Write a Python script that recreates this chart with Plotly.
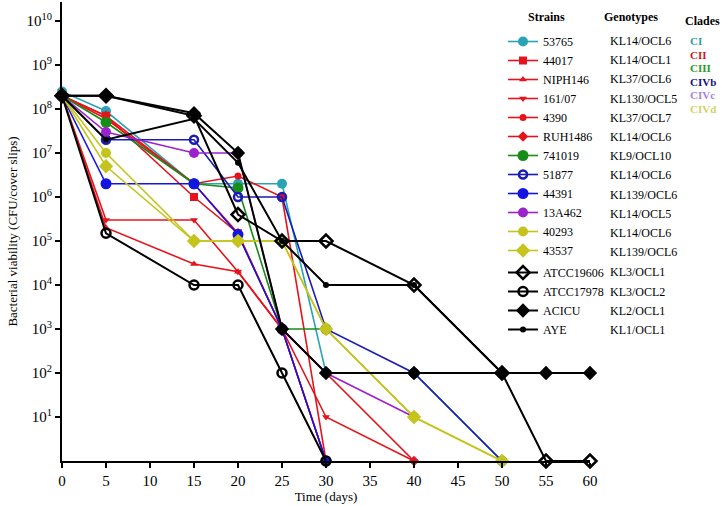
import plotly.graph_objects as go

# ---------------- data ----------------
days = [0, 5, 15, 20, 25, 30, 40, 50, 55, 60]

strains = ["53765", "44017", "NIPH146", "161/07", "4390", "RUH1486", "741019",
           "51877", "44391", "13A462", "40293", "43537",
           "ATCC19606", "ATCC17978", "ACICU", "AYE"]
genotypes = ["KL14/OCL6", "KL14/OCL1", "KL37/OCL6", "KL130/OCL5", "KL37/OCL7",
             "KL14/OCL6", "KL9/OCL10", "KL14/OCL6", "KL139/OCL6", "KL14/OCL5",
             "KL14/OCL6", "KL139/OCL6", "KL3/OCL1", "KL3/OCL2", "KL2/OCL1", "KL1/OCL1"]
clades = ["CI", "CII", "CIII", "CIVb", "CIVc", "CIVd"]

v53765 = [2.5e8, 9e7, 2e6, 2e6, 2e6, 1e2, 1e2, 1]
v44017 = [2e8, 7e7, 1e6, 1.5e5, 1e3, 1]
vNIPH146 = [2e8, 2e5, 3e4, 2e4, 1e3, 1]
v16107 = [2e8, 3e5, 3e5, 2e4, 1e3, 10, 1]
v4390 = [2e8, 6e7, 2e6, 3e6, 1e6, 1]
vRUH1486 = [2e8, 7e7, 2e6, 1.5e5, 1e3, 1e2, 1]
v741019 = [2e8, 5e7, 2e6, 1.6e6, 1e3, 1e3]
v51877 = [2e8, 2e7, 2e7, 1e6, 1e6, 1e3, 1e2, 1]
v44391 = [2e8, 2e6, 2e6, 1.4e5, 1e3, 1]
v13A462 = [2e8, 3e7, 1e7, 1e7, 1e3, 1e2, 10]
v40293 = [2e8, 1e7, 1e5, 1e5, 1e5, 1e3, 10, 1]
v43537 = [2e8, 5e6, 1e5, 1e5, 1e5, 1e3, 10, 1]
vATCC19606 = [2e8, 2e8, 7e7, 4e5, 1e5, 1e5, 1e4, 1e2, 1, 1]
vATCC17978 = [2e8, 1.5e5, 1e4, 1e4, 1e2, 1]
vACICU = [2e8, 2e8, 8e7, 1e7, 1e3, 1e2, 1e2, 1e2, 1e2, 1e2]
vAYE = [2e8, 2e7, 6e7, 6e6, 1e5, 1e4, 1e4, 1e2, 1e2, 1e2]

values = [v53765, v44017, vNIPH146, v16107, v4390, vRUH1486, v741019,
          v51877, v44391, v13A462, v40293, v43537,
          vATCC19606, vATCC17978, vACICU, vAYE]

x_ticks = [0, 5, 10, 15, 20, 25, 30, 35, 40, 45, 50, 55, 60]
y_tick_exp = list(range(1, 11))

# ---------------- styles ----------------
RED = "#e5141c"
styles = [
    dict(color="#2aa3b4", symbol="circle", size=10),
    dict(color=RED, symbol="square", size=8),
    dict(color=RED, symbol="triangle-up", size=7),
    dict(color=RED, symbol="triangle-down", size=7),
    dict(color=RED, symbol="circle", size=7),
    dict(color=RED, symbol="diamond", size=8),
    dict(color="#188c18", symbol="circle", size=11),
    dict(color="#1a1ab4", symbol="circle-open", size=8, lw=2.5),
    dict(color="#1414e0", symbol="circle", size=11),
    dict(color="#9b22cc", symbol="circle", size=10),
    dict(color="#c4c41c", symbol="circle-dot", size=10),
    dict(color="#c4c41c", symbol="diamond-dot", size=11),
    dict(color="black", symbol="diamond-open", size=10, lw=2.5, w=2),
    dict(color="black", symbol="circle-open", size=9, lw=2.5, w=2),
    dict(color="black", symbol="diamond", size=11, w=2),
    dict(color="black", symbol="circle", size=6, w=2),
]

W, H = 726, 506
ML, MR, MT, MB = 62, 136, 2, 45
PW, PH = W - ML - MR, H - MT - MB
def px_x(p):
    return (p - ML) / PW
def px_y(p):
    return (H - MB - p) / PH

FONT = "Liberation Serif"

fig = go.Figure()
for i, (name, vals, st) in enumerate(zip(strains, values, styles)):
    fig.add_trace(go.Scatter(
        x=days[:len(vals)], y=vals, name=name, mode="lines+markers",
        legendgroup="ref" if i >= 12 else "clin",
        line=dict(color=st["color"], width=st.get("w", 1.6)),
        marker=dict(color=st["color"], symbol=st["symbol"], size=st["size"],
                    line=dict(color=st["color"], width=st.get("lw", 0))),
        cliponaxis=False,
    ))

axis_common = dict(showline=True, linecolor="black", linewidth=2, ticks="outside",
                   ticklen=5, tickwidth=2, tickcolor="black", showgrid=False,
                   zeroline=False, tickfont=dict(family=FONT, size=15, color="black"))
fig.update_xaxes(range=[0, 60], tickvals=x_ticks, ticktext=[str(t) for t in x_ticks],
                 title=dict(text="Time (days)", font=dict(family=FONT, size=13, color="black"),
                            standoff=3),
                 **axis_common)
fig.update_yaxes(type="log", range=[0, (H - MB - MT) / 44.0],
                 tickvals=[10 ** e for e in y_tick_exp],
                 ticktext=["10<sup>%d</sup>" % e for e in y_tick_exp],
                 title=dict(text="Bacterial viability (CFU/cover slips)",
                            font=dict(family=FONT, size=13, color="black"), standoff=6),
                 **axis_common)

annotations = []
# headers
annotations.append(dict(x=px_x(546), y=px_y(17), text="<b>Strains</b>"))
annotations.append(dict(x=px_x(631), y=px_y(17), text="<b>Genotypes</b>"))
annotations.append(dict(x=px_x(702), y=px_y(21), text="<b>Clades</b>"))
# genotype column
for i, g in enumerate(genotypes):
    yp = 41 + i * 19.2 + (1 if i >= 12 else 0)
    annotations.append(dict(x=px_x(608), y=px_y(yp), text=g, xanchor="left",
                            font=dict(family=FONT, size=12, color="black")))
clade_colors = ["#2f9aa8", "#d01818", "#2a9a2a", "#12127e", "#a684e0", "#d2d264"]
for i, (c, col) in enumerate(zip(clades, clade_colors)):
    annotations.append(dict(x=px_x(688), y=px_y(41 + i * 13.6), text="<b>%s</b>" % c,
                            xanchor="left", font=dict(family=FONT, size=11, color=col)))
for a in annotations:
    a.setdefault("xanchor", "center")
    a.setdefault("font", dict(family=FONT, size=12, color="black"))
    a.update(xref="paper", yref="paper", showarrow=False, yanchor="middle")

fig.update_layout(
    width=W, height=H,
    margin=dict(l=ML, r=MR, t=MT, b=MB),
    paper_bgcolor="white", plot_bgcolor="white",
    font=dict(family=FONT, color="black"),
    annotations=annotations,
    legend=dict(x=px_x(503), y=px_y(27), xanchor="left", yanchor="top",
                bgcolor="rgba(0,0,0,0)", traceorder="grouped", tracegroupgap=3,
                font=dict(family=FONT, size=12, color="black")),
)

fig.write_html("out.html")
